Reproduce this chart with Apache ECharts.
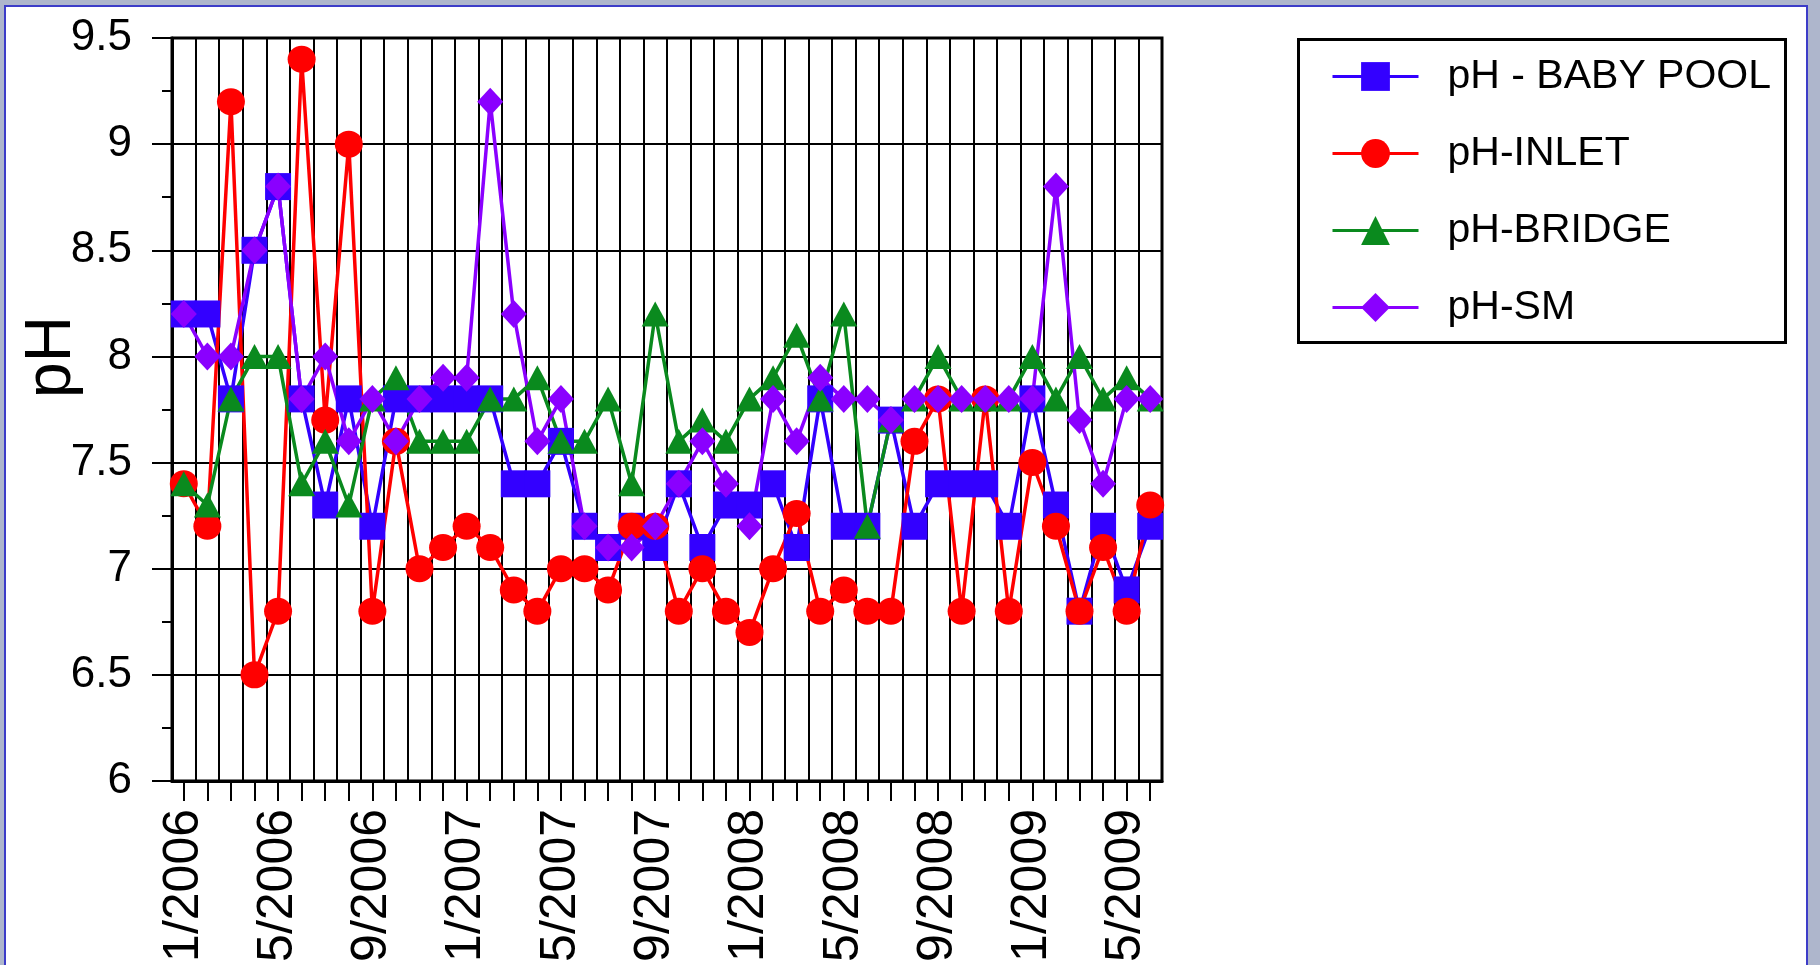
<!DOCTYPE html>
<html>
<head>
<meta charset="utf-8">
<script src="https://cdn.jsdelivr.net/npm/echarts@6/dist/echarts.min.js"></script>
<style>
html,body{margin:0;padding:0;width:1820px;height:965px;overflow:hidden;background:#aeb6cc;}
#frame{position:absolute;left:4px;top:5px;width:1800px;height:980px;background:#fff;border:2px solid #3c3cc8;border-bottom:none;}
#chart{position:absolute;left:0;top:0;width:1820px;height:965px;}
</style>
</head>
<body>
<div id="frame"></div>
<div id="chart"></div>
<script>
const months = [
  '1/2006','2/2006','3/2006','4/2006','5/2006','6/2006','7/2006','8/2006','9/2006','10/2006','11/2006','12/2006',
  '1/2007','2/2007','3/2007','4/2007','5/2007','6/2007','7/2007','8/2007','9/2007','10/2007','11/2007','12/2007',
  '1/2008','2/2008','3/2008','4/2008','5/2008','6/2008','7/2008','8/2008','9/2008','10/2008','11/2008','12/2008',
  '1/2009','2/2009','3/2009','4/2009','5/2009','6/2009'
];
const yTicks = [6, 6.5, 7, 7.5, 8, 8.5, 9, 9.5];
const seriesNames = ['pH - BABY POOL', 'pH-INLET', 'pH-BRIDGE', 'pH-SM'];

const babyPool = [8.2, 8.2, 7.8, 8.5, 8.8, 7.8, 7.3, 7.8, 7.2, 7.8, 7.8, 7.8, 7.8, 7.8, 7.4, 7.4, 7.6, 7.2, 7.1, 7.2, 7.1,
  7.4, 7.1, 7.3, 7.3, 7.4, 7.1, 7.8, 7.2, 7.2, 7.7, 7.2, 7.4, 7.4, 7.4, 7.2, 7.8, 7.3, 6.8, 7.2, 6.9, 7.2];
const inlet = [7.4, 7.2, 9.2, 6.5, 6.8, 9.4, 7.7, 9.0, 6.8, 7.6, 7.0, 7.1, 7.2, 7.1, 6.9, 6.8, 7.0, 7.0, 6.9, 7.2, 7.2,
  6.8, 7.0, 6.8, 6.7, 7.0, 7.26, 6.8, 6.9, 6.8, 6.8, 7.6, 7.8, 6.8, 7.8, 6.8, 7.5, 7.2, 6.8, 7.1, 6.8, 7.3];
const bridge = [7.4, 7.3, 7.8, 8.0, 8.0, 7.4, 7.6, 7.3, 7.8, 7.9, 7.6, 7.6, 7.6, 7.8, 7.8, 7.9, 7.6, 7.6, 7.8, 7.4, 8.2,
  7.6, 7.7, 7.6, 7.8, 7.9, 8.1, 7.8, 8.2, 7.2, 7.7, 7.8, 8.0, 7.8, 7.8, 7.8, 8.0, 7.8, 8.0, 7.8, 7.9, 7.8];
const sm = [8.2, 8.0, 8.0, 8.5, 8.8, 7.8, 8.0, 7.6, 7.8, 7.6, 7.8, 7.9, 7.9, 9.2, 8.2, 7.6, 7.8, 7.2, 7.1, 7.1, 7.2,
  7.4, 7.6, 7.4, 7.2, 7.8, 7.6, 7.9, 7.8, 7.8, 7.7, 7.8, 7.8, 7.8, 7.8, 7.8, 7.8, 8.8, 7.7, 7.4, 7.8, 7.8];

const FONT = '"Liberation Sans", Arial, Helvetica, sans-serif';
const colors = ['#3300ff', '#ff0000', '#0a8a1e', '#8a00ff'];
const symbols = ['rect', 'circle', 'triangle', 'diamond'];
const symbolSizes = [[26, 27], [28, 27], [27, 25], [26, 28]];
const datasets = [babyPool, inlet, bridge, sm];

const chart = echarts.init(document.getElementById('chart'), null, {renderer: 'canvas'});
const option = {
  animation: false,
  backgroundColor: 'transparent',
  grid: {left: 172, right: 658, top: 38, bottom: 184, show: true, borderColor: '#000', borderWidth: 3, backgroundColor: 'transparent'},
  xAxis: {
    type: 'category', data: months, boundaryGap: true,
    axisLine: {show: true, lineStyle: {color: '#000', width: 3}},
    axisTick: {show: true, alignWithLabel: true, interval: 0, length: 20, lineStyle: {color: '#000', width: 2}},
    axisLabel: {interval: 3, rotate: 90, fontSize: 50, fontFamily: FONT, color: '#000', margin: 28},
    splitLine: {show: true, interval: 0, lineStyle: {color: '#000', width: 2}}
  },
  yAxis: {
    type: 'value', min: yTicks[0], max: yTicks[yTicks.length - 1], interval: 0.5,
    axisLine: {show: true, lineStyle: {color: '#000', width: 3}},
    axisTick: {show: true, length: 20, lineStyle: {color: '#000', width: 2}},
    minorTick: {show: true, splitNumber: 2, length: 10, lineStyle: {color: '#000', width: 2}},
    axisLabel: {fontSize: 44, fontFamily: FONT, color: '#000', margin: 40},
    splitLine: {show: true, lineStyle: {color: '#000', width: 2}}
  },
  legend: {
    orient: 'vertical', left: 1331, top: 56, padding: 0, itemWidth: 86, itemHeight: 36, itemGap: 36,
    lineStyle: {width: 3},
    textStyle: {fontSize: 41, fontFamily: FONT, color: '#000', padding: [0, 0, 0, 24]},
    data: seriesNames
  },
  graphic: [
    {type: 'rect', left: 1297, top: 38, shape: {width: 487, height: 303}, style: {fill: 'transparent', stroke: '#000', lineWidth: 3}, z: 0},
    {type: 'text', x: 52, y: 357, rotation: Math.PI / 2, style: {text: 'pH', fontSize: 64, fontFamily: FONT, fill: '#000', align: 'center', verticalAlign: 'middle'}}
  ],
  series: seriesNames.map((name, k) => ({
    name: name, type: 'line', data: datasets[k],
    symbol: symbols[k], symbolSize: symbolSizes[k], showAllSymbol: true,
    lineStyle: {color: colors[k], width: 3.5},
    itemStyle: {color: colors[k]},
    emphasis: {disabled: true}
  }))
};
chart.setOption(option);
</script>
</body>
</html>
